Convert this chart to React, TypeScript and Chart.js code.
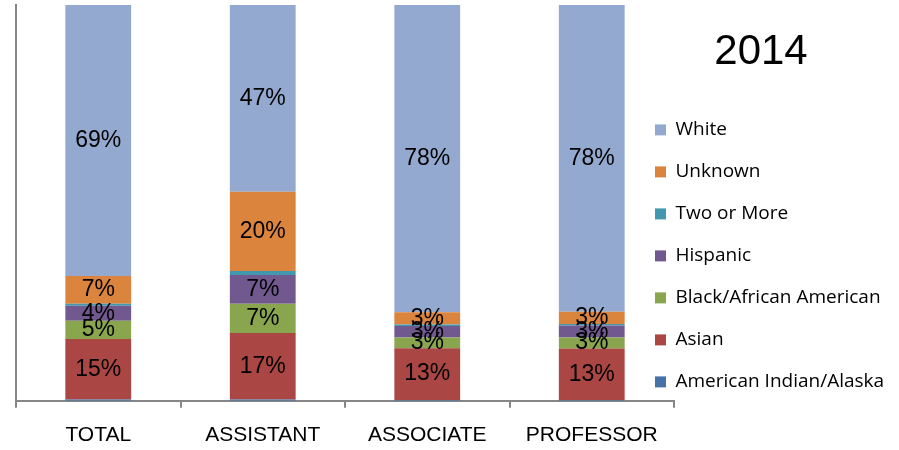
import React, { useEffect, useRef } from 'react';
import { Chart, registerables } from 'chart.js';

Chart.register(...registerables);

const categories = ['TOTAL', 'ASSISTANT', 'ASSOCIATE', 'PROFESSOR'];
const seriesNames = [
  'American Indian/Alaska',
  'Asian',
  'Black/African American',
  'Hispanic',
  'Two or More',
  'Unknown',
  'White',
];
const americanIndian = [0.3, 0.3, 0.2, 0.2];
const asian = [15.3, 16.8, 13.1, 13.0];
const black = [4.6, 7.4, 2.7, 2.8];
const hispanic = [3.8, 7.3, 2.9, 3.0];
const twoOrMore = [0.5, 1.0, 0.4, 0.4];
const unknown = [7.0, 20.0, 3.1, 3.1];
const white = [68.5, 47.2, 77.6, 77.5];
const titleText = '2014';

const seriesValues = [americanIndian, asian, black, hispanic, twoOrMore, unknown, white];
const seriesColors = ['#4572A7', '#AA4643', '#89A54E', '#71588F', '#4198AF', '#DB843D', '#93A9CF'];

const barLabels = {
  id: 'barLabels',
  afterDatasetsDraw(chart: any) {
    const ctx = chart.ctx;
    ctx.save();
    ctx.font = '23px "Liberation Sans"';
    ctx.fillStyle = '#000000';
    ctx.textAlign = 'center';
    ctx.textBaseline = 'middle';
    chart.data.datasets.forEach((ds: any, di: number) => {
      const meta = chart.getDatasetMeta(di);
      meta.data.forEach((el: any, i: number) => {
        const v = ds.data[i];
        if (v < 2) return;
        const p = el.getCenterPoint();
        ctx.fillText(Math.round(v) + '%', p.x, p.y);
      });
    });
    ctx.restore();
  },
};

const legendShift = {
  id: 'legendShift',
  afterLayout(chart: any) {
    const lg = chart.legend;
    if (!lg) return;
    const shift = 42;
    lg.left -= shift;
    lg.width = 258;
  },
};

export default function App() {
  const canvasRef = useRef<HTMLCanvasElement | null>(null);

  useEffect(() => {
    if (!canvasRef.current) return;
    Chart.defaults.font.family = '"Liberation Sans", Arial, sans-serif';
    const chart = new Chart(canvasRef.current, {
      type: 'bar',
      data: {
        labels: categories,
        datasets: seriesNames.map((name, i) => ({
          label: name,
          data: seriesValues[i],
          backgroundColor: seriesColors[i],
          borderWidth: 0,
          categoryPercentage: 1,
          barPercentage: 0.4,
        })),
      },
      options: {
        responsive: false,
        animation: false,
        layout: { padding: { top: 5, left: 16, bottom: -13, right: 0 } },
        scales: {
          x: {
            stacked: true,
            grid: {
              display: true,
              drawOnChartArea: false,
              drawTicks: true,
              tickLength: 7,
              color: '#868686',
              lineWidth: 2,
            },
            border: { display: true, color: '#868686', width: 2 },
            ticks: {
              color: '#000000',
              padding: 15,
              font: { size: 21, family: '"Liberation Sans", Arial, sans-serif' },
            },
          },
          y: {
            stacked: true,
            min: 0,
            max: 100,
            grid: { display: false, drawTicks: false },
            border: { display: true, color: '#868686', width: 2 },
            ticks: { display: false },
          },
        },
        plugins: {
          tooltip: { enabled: false },
          legend: {
            position: 'right',
            reverse: true,
            align: 'start',
            maxWidth: 225,
            title: {
              display: true,
              text: titleText,
              color: '#000000',
              font: { size: 42, family: '"Liberation Sans", Arial, sans-serif' },
              padding: { top: 26, bottom: 16 },
            },
            labels: {
              boxWidth: 11,
              boxHeight: 11,
              padding: 23,
              color: '#000000',
              font: { size: 19, family: '"Open Sans", sans-serif' },
            },
          },
        },
      } as any,
      plugins: [barLabels, legendShift],
    });
    return () => chart.destroy();
  }, []);

  return (
    <div style={{ position: 'absolute', left: 0, top: 0, width: 899, height: 450, background: '#ffffff' }}>
      <canvas ref={canvasRef} width={899} height={450} style={{ display: 'block' }} />
    </div>
  );
}
